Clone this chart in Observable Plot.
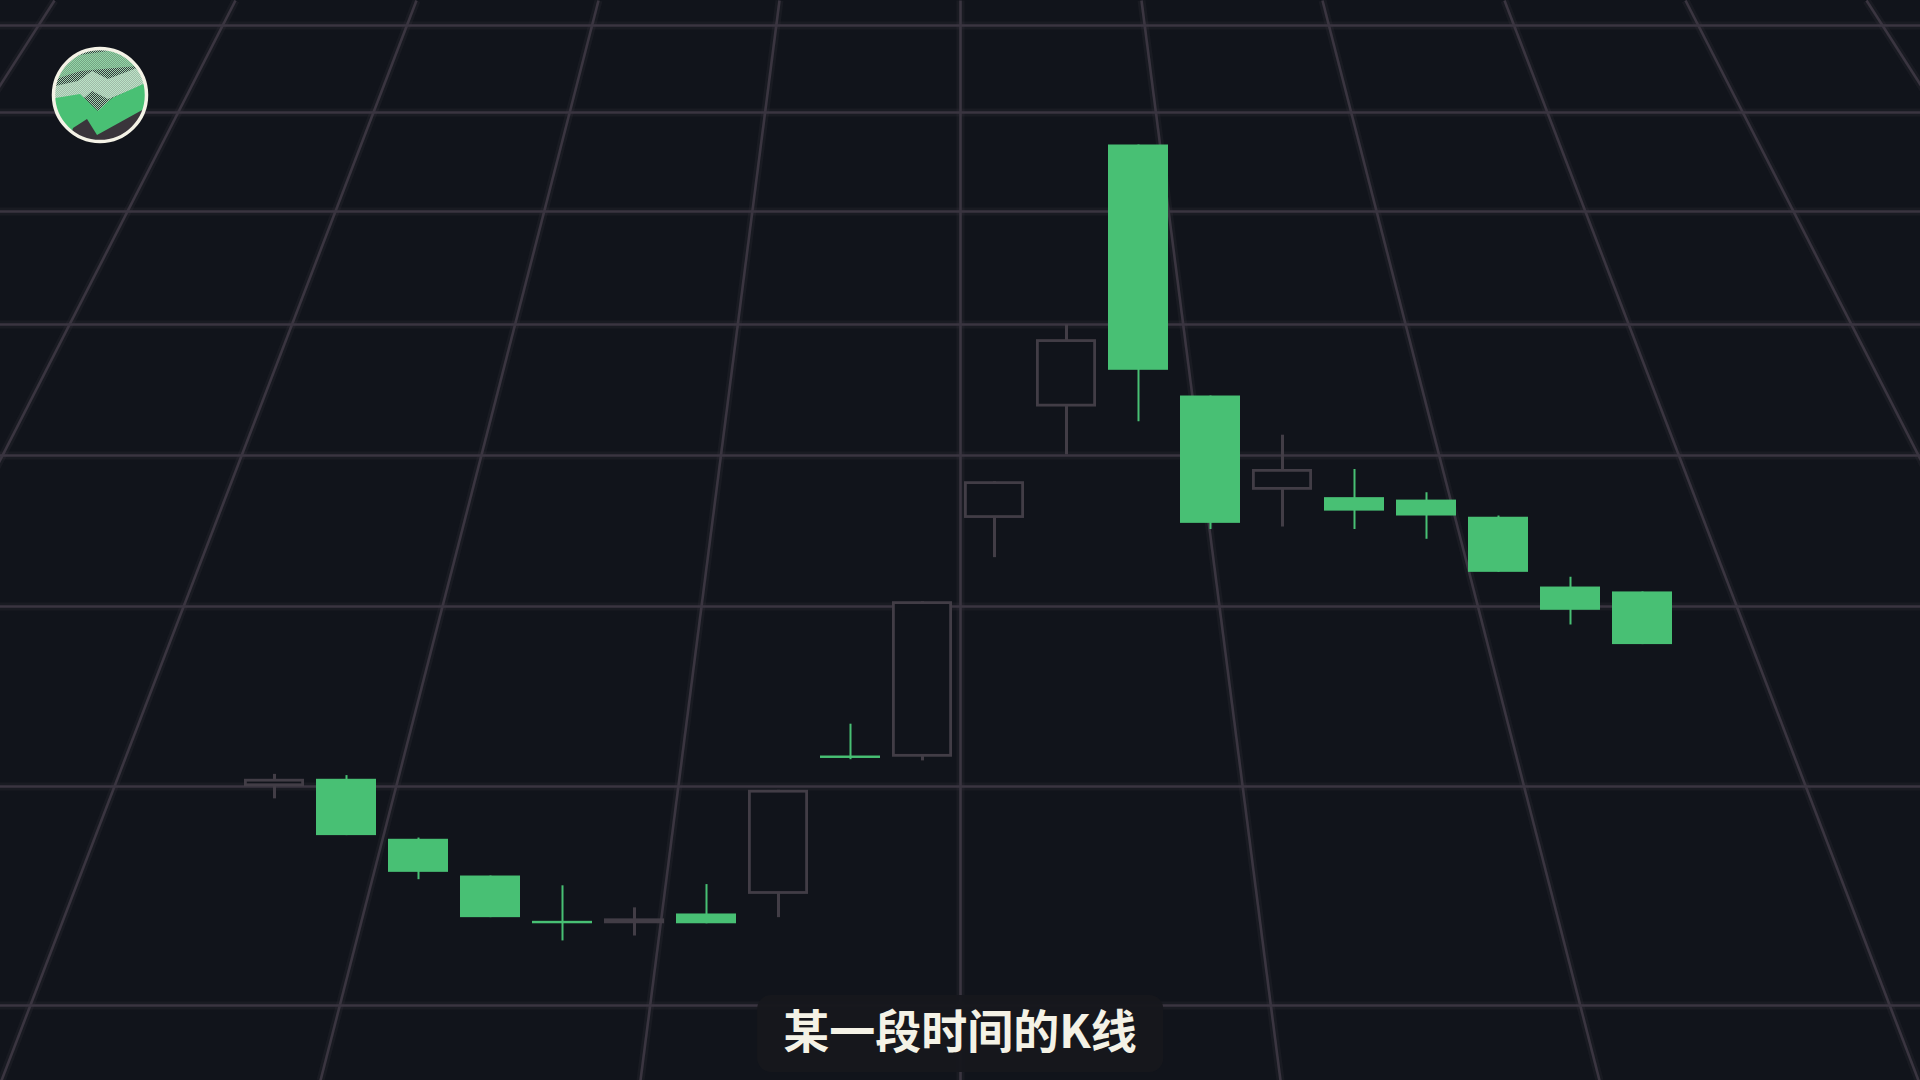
<!DOCTYPE html>
<html>
<head>
<meta charset="utf-8">
<script src="https://cdn.jsdelivr.net/npm/d3@7"></script>
<script src="https://cdn.jsdelivr.net/npm/@observablehq/plot@0.6"></script>
<style>
  html, body { margin: 0; padding: 0; background: #11141b; overflow: hidden; }
  #stage { position: relative; width: 1920px; height: 1080px; overflow: hidden; background: #11141b; }
  #stage > svg { position: absolute; left: 0; top: 0; }
  #stage > svg#logo { left: 50px; top: 45px; z-index: 3; }
  #caption {
    position: absolute; left: 50%; top: 995px; transform: translateX(-50%); z-index: 3;
    height: 77px; line-height: 77px; padding: 0 26px; border-radius: 14px;
    background: rgba(23, 24, 29, 0.97); color: #f4f2e6; white-space: nowrap;
    font: 700 46px "Noto Sans CJK SC", sans-serif;
  }
</style>
</head>
<body>
<div id="stage">
  <svg id="logo" width="100" height="100" viewBox="-50 -50 100 100">
    <defs>
      <clipPath id="lc"><circle r="46"></circle></clipPath>
      <pattern id="dith" width="2" height="2" patternUnits="userSpaceOnUse">
        <rect width="2" height="2" fill="#a3d9b2"></rect>
        <rect width="1" height="1" fill="#34363b"></rect>
        <rect x="1" y="1" width="1" height="1" fill="#34363b"></rect>
      </pattern>
    </defs>
    <g clip-path="url(#lc)">
      <rect x="-50" y="-50" width="100" height="100" fill="url(#dith)"></rect>
      <polygon points="-50,-30 -20,-40 50,-50 50,-30 -20,-24 -50,-14" fill="#8fd3a2" opacity="0.7"></polygon>
      <polygon points="-50,-8 -22,-14 -8,-24 8,-16 50,-32 50,-12 8,4 -8,-4 -22,8 -50,10" fill="#c4e7cd" opacity="0.75"></polygon>
      <polygon points="-50,4 -20,-1 -2,16 12,3 50,-14 50,50 -50,50" fill="#49c074"></polygon>
      <polygon points="-32,50 -27,33 -13,24 -3,40 44,14 50,14 50,50" fill="#3a353b"></polygon>
    </g>
    <circle r="46.5" fill="none" stroke="#f4f2e6" stroke-width="3.5"></circle>
  </svg>
  <div id="caption">某一段时间的K线</div>
</div>
<script>
// perspective floor grid, positions (px)
const gridTopX = [54, 235, 416, 598, 779, 960, 1141, 1322, 1504, 1685, 1866]
const gridBottomX = [-638, -318, 1, 320, 640, 960, 1280, 1599, 1918, 2238, 2558]
const gridRowsY = [25, 112, 211, 324, 455, 606, 786, 1005]

// candles
const days = ['1', '2', '3', '4', '5', '6', '7', '8', '9', '10',
              '11', '12', '13', '14', '15', '16', '17', '18', '19', '20']
const opens  = [15.8, 16.4, 11.5, 8.5, 4.8, 4.6, 5.4, 7.0, 18.3, 18.2, 37.7, 46.8, 68.2, 47.7, 40.0, 39.4, 39.2, 37.8, 32.1, 31.7]
const closes = [16.4, 11.8, 8.8, 5.1, 4.6, 5.0, 4.6, 15.5, 18.1, 30.9, 40.7, 52.3, 49.8, 37.3, 41.7, 38.3, 37.9, 33.3, 30.2, 27.4]
const highs  = [16.8, 16.7, 11.6, 8.5, 7.7, 5.9, 7.8, 15.5, 20.9, 30.9, 40.7, 53.5, 68.2, 47.7, 44.5, 41.7, 39.8, 37.9, 32.9, 31.7]
const lows   = [14.8, 11.8, 8.2, 5.1, 3.2, 3.6, 4.6, 5.1, 18.0, 17.9, 34.5, 42.9, 45.6, 36.8, 37.0, 36.8, 36.0, 33.3, 29.0, 27.4]

const bg = '#11141b'
const lineColor = '#3a3540'
const green = '#48c074'
const gray = '#423d46'

const lines = gridTopX.map((t, i) => ({top: t, bottom: gridBottomX[i]}))

let grid = Plot.plot({
  width: 1920,
  height: 1080,
  margin: 0,
  x: {domain: [0, 1920], range: [0, 1920], axis: null},
  y: {domain: [0, 1080], range: [0, 1080], axis: null},
  style: {background: bg},
  marks: [
    Plot.link(lines, {x1: 'top', x2: 'bottom', y1: 0, y2: 1080, stroke: lineColor, strokeWidth: 8, strokeOpacity: 0.2, clip: true}),
    Plot.ruleY(gridRowsY, {stroke: lineColor, strokeWidth: 8, strokeOpacity: 0.2}),
    Plot.link(lines, {x1: 'top', x2: 'bottom', y1: 0, y2: 1080, stroke: lineColor, strokeWidth: 2.6, clip: true}),
    Plot.ruleY(gridRowsY, {stroke: lineColor, strokeWidth: 2.6})
  ]
})

const candles = days.map((day, i) => ({day, open: opens[i], close: closes[i], high: highs[i], low: lows[i]}))
const up = candles.filter(d => d.close >= d.open)
const down = candles.filter(d => d.close < d.open)

let chart = Plot.plot({
  width: 1920,
  height: 1080,
  marginLeft: 232,
  marginRight: 236,
  marginTop: 0,
  marginBottom: 100.4,
  x: {type: 'band', domain: days, paddingInner: 1 / 6, paddingOuter: 1 / 6, axis: null},
  y: {domain: [0, 80], axis: null},
  style: {background: 'transparent'},
  marks: [
    Plot.ruleX(up, {x: 'day', y1: 'low', y2: 'high', stroke: gray, strokeWidth: 3}),
    Plot.ruleX(down, {x: 'day', y1: 'low', y2: 'high', stroke: green, strokeWidth: 2}),
    Plot.barY(up, {x: 'day', y1: 'open', y2: 'close', fill: bg, stroke: gray, strokeWidth: 2.8, inset: 1.4}),
    Plot.barY(down, {x: 'day', y1: 'open', y2: 'close', fill: green})
  ]
})

const stage = document.getElementById('stage')
stage.insertBefore(chart, stage.firstChild)
stage.insertBefore(grid, stage.firstChild)
</script>
</body>
</html>
